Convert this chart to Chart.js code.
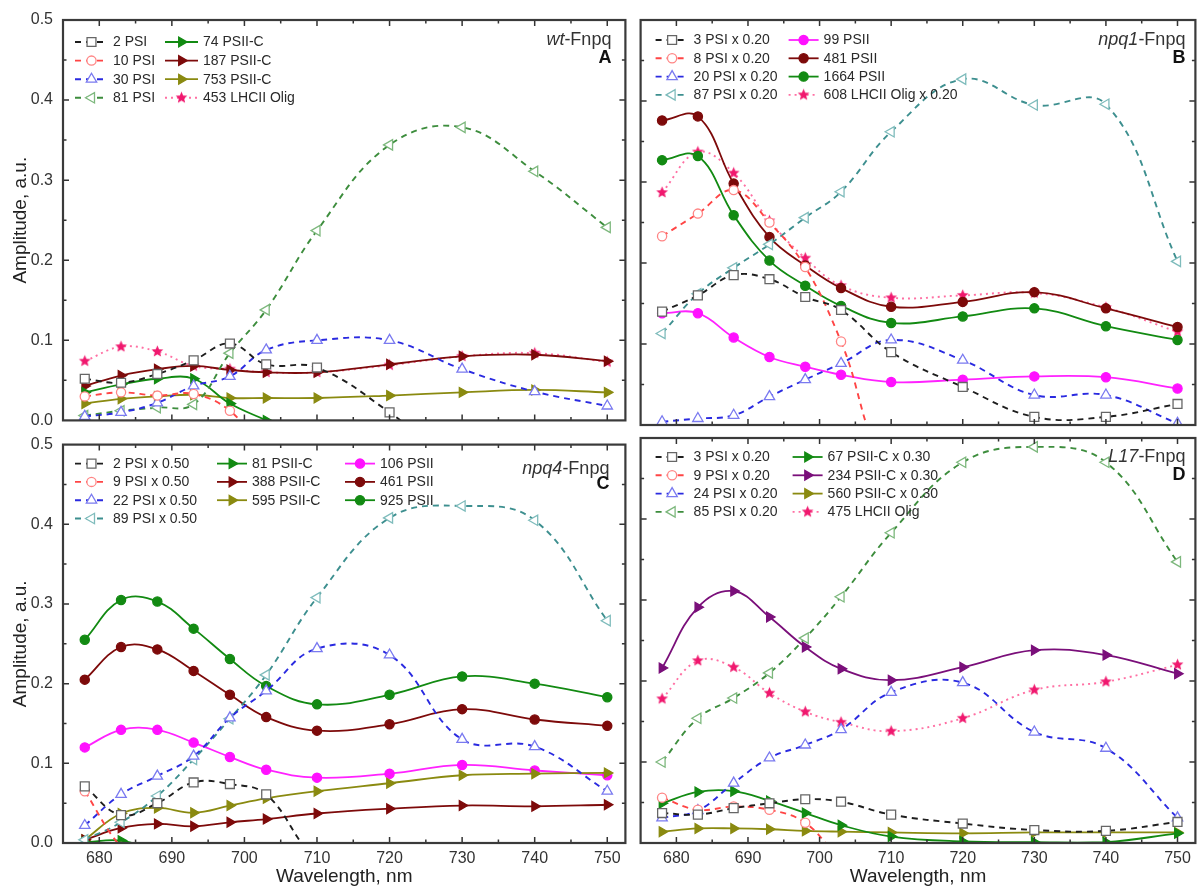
<!DOCTYPE html>
<html>
<head>
<meta charset="utf-8">
<title>Decay-associated spectra, Fnpq</title>
<script src="https://cdn.jsdelivr.net/npm/chart.js@4.4.1/dist/chart.umd.min.js"></script>
<style>
  body { margin: 0; background: #fff; }
  #wrap { position: relative; width: 1203px; height: 888px; }
  #wrap canvas { position: absolute; }
</style>
</head>
<body>
<div id="wrap">
  <canvas id="panelA" width="633" height="440" style="left:0;top:0"></canvas>
  <canvas id="panelB" width="570" height="440" style="left:633px;top:0"></canvas>
  <canvas id="panelC" width="633" height="463" style="left:0;top:425px"></canvas>
  <canvas id="panelD" width="570" height="463" style="left:633px;top:425px"></canvas>
</div>
<script>
// wavelengths of the fitted spectra (nm)
const wavelength = [678, 683, 688, 693, 698, 703, 710, 720, 730, 740, 750];
const xTickValues = [680, 690, 700, 710, 720, 730, 740, 750];
const yTickValues = [0, 0.1, 0.2, 0.3, 0.4, 0.5];

// A: wt-Fnpq
const aLabels = ['2 PSI', '10 PSI', '30 PSI', '81 PSI', '74 PSII-C', '187 PSII-C', '753 PSII-C', '453 LHCII Olig'];
const aPsi2   = [0.052, 0.047, 0.058, 0.075, 0.096, 0.070, 0.066, 0.010, -0.06, -0.09, -0.06];
const aPsi10  = [0.030, 0.035, 0.031, 0.033, 0.012, -0.04, -0.08, -0.10, -0.10, -0.10, -0.10];
const aPsi30  = [0.005, 0.010, 0.022, 0.043, 0.055, 0.088, 0.100, 0.100, 0.064, 0.036, 0.018];
const aPsi81  = [0.006, 0.012, 0.016, 0.020, 0.084, 0.138, 0.237, 0.344, 0.366, 0.311, 0.241];
const aC74    = [0.035, 0.045, 0.052, 0.052, 0.021, 0.000, -0.03, -0.05, -0.05, -0.05, -0.05];
const aC187   = [0.043, 0.056, 0.064, 0.068, 0.063, 0.060, 0.060, 0.070, 0.080, 0.082, 0.074];
const aC753   = [0.021, 0.027, 0.030, 0.032, 0.028, 0.028, 0.028, 0.031, 0.035, 0.038, 0.035];
const aOlig   = [0.074, 0.092, 0.086, 0.068, 0.064, 0.060, 0.060, 0.069, 0.080, 0.084, 0.073];

// B: npq1-Fnpq
const bLabels = ['3 PSI x 0.20', '8 PSI x 0.20', '20 PSI x 0.20', '87 PSI x 0.20', '99 PSII', '481 PSII', '1664 PSII', '608 LHCII Olig x 0.20'];
const bPsi3   = [0.140, 0.160, 0.185, 0.180, 0.158, 0.142, 0.090, 0.047, 0.010, 0.010, 0.026];
const bPsi8   = [0.233, 0.261, 0.290, 0.250, 0.195, 0.103, -0.06, -0.10, -0.10, -0.10, -0.10];
const bPsi20  = [0.004, 0.008, 0.012, 0.035, 0.056, 0.076, 0.105, 0.080, 0.037, 0.037, 0.002];
const bPsi87  = [0.113, 0.162, 0.194, 0.223, 0.256, 0.288, 0.362, 0.427, 0.395, 0.396, 0.202];
const bII99   = [0.138, 0.138, 0.108, 0.084, 0.072, 0.062, 0.053, 0.056, 0.060, 0.059, 0.045];
const bII481  = [0.376, 0.381, 0.298, 0.232, 0.197, 0.169, 0.146, 0.152, 0.164, 0.144, 0.121];
const bII1664 = [0.327, 0.332, 0.259, 0.203, 0.172, 0.147, 0.126, 0.134, 0.144, 0.122, 0.105];
const bOlig   = [0.287, 0.337, 0.311, 0.252, 0.206, 0.172, 0.157, 0.160, 0.163, 0.145, 0.115];

// C: npq4-Fnpq
const cLabels = ['2 PSI x 0.50', '9 PSI x 0.50', '22 PSI x 0.50', '89 PSI x 0.50', '81 PSII-C', '388 PSII-C', '595 PSII-C', '106 PSII', '461 PSII', '925 PSII'];
const cPsi2   = [0.071, 0.035, 0.050, 0.076, 0.074, 0.061, -0.02, -0.06, -0.08, -0.08, -0.08];
const cPsi9   = [0.065, -0.005, -0.04, -0.05, -0.05, -0.05, -0.05, -0.05, -0.05, -0.05, -0.05];
const cPsi22  = [0.022, 0.061, 0.084, 0.109, 0.157, 0.191, 0.244, 0.236, 0.130, 0.121, 0.065];
const cPsi89  = [0.004, 0.026, 0.059, 0.105, 0.156, 0.211, 0.308, 0.408, 0.423, 0.405, 0.279];
const cC81    = [0.001, 0.003, -0.01, -0.02, -0.03, -0.03, -0.03, -0.03, -0.03, -0.03, -0.03];
const cC388   = [0.004, 0.019, 0.024, 0.021, 0.026, 0.030, 0.037, 0.043, 0.047, 0.046, 0.048];
const cC595   = [0.004, 0.037, 0.044, 0.038, 0.047, 0.056, 0.065, 0.075, 0.085, 0.087, 0.088];
const cII106  = [0.120, 0.142, 0.142, 0.126, 0.108, 0.092, 0.082, 0.087, 0.098, 0.091, 0.085];
const cII461  = [0.205, 0.246, 0.243, 0.216, 0.186, 0.158, 0.141, 0.149, 0.168, 0.155, 0.147];
const cII925  = [0.255, 0.305, 0.303, 0.269, 0.231, 0.197, 0.174, 0.186, 0.209, 0.200, 0.183];

// D: L17-Fnpq
const dLabels = ['3 PSI x 0.20', '9 PSI x 0.20', '24 PSI x 0.20', '85 PSI x 0.20', '67 PSII-C x 0.30', '234 PSII-C x 0.30', '560 PSII-C x 0.30', '475 LHCII Olig'];
const dPsi3   = [0.037, 0.035, 0.043, 0.049, 0.054, 0.051, 0.035, 0.024, 0.016, 0.015, 0.026];
const dPsi9   = [0.056, 0.041, 0.045, 0.041, 0.025, -0.02, -0.06, -0.08, -0.08, -0.08, -0.08];
const dPsi24  = [0.031, 0.040, 0.074, 0.105, 0.121, 0.140, 0.186, 0.198, 0.137, 0.117, 0.031];
const dPsi85  = [0.100, 0.154, 0.179, 0.210, 0.253, 0.304, 0.383, 0.470, 0.489, 0.470, 0.347];
const dC67    = [0.049, 0.063, 0.064, 0.052, 0.037, 0.022, 0.008, 0.002, 0.001, 0.001, 0.012];
const dC234   = [0.216, 0.291, 0.311, 0.279, 0.242, 0.215, 0.201, 0.217, 0.238, 0.232, 0.209];
const dC560   = [0.014, 0.018, 0.018, 0.017, 0.015, 0.014, 0.013, 0.012, 0.013, 0.013, 0.013];
const dOlig   = [0.178, 0.225, 0.217, 0.185, 0.162, 0.149, 0.138, 0.154, 0.189, 0.199, 0.220];

const FONT = "'Liberation Sans', Arial, sans-serif";

// filled five-point star used for the LHCII oligomer traces
function starImage(color, r) {
  const c = document.createElement('canvas');
  const s = Math.ceil(r * 2 + 2);
  c.width = c.height = s;
  const g = c.getContext('2d');
  g.fillStyle = color;
  g.beginPath();
  for (let i = 0; i < 10; i++) {
    const rr = i % 2 ? r * 0.45 : r;
    const ang = -Math.PI / 2 + i * Math.PI / 5;
    g.lineTo(s / 2 + rr * Math.cos(ang), s / 2 + rr * Math.sin(ang));
  }
  g.closePath();
  g.fill();
  return c;
}

const DASH = [6, 5];
const STYLE = {
  black:   { line: '#1e1e1e', mark: '#666666', fill: '#ffffff', dash: DASH, shape: 'rect', r: 6.3 },
  red:     { line: '#ff4545', mark: '#ff8585', fill: '#ffffff', dash: DASH, shape: 'circle', r: 4.6 },
  blue:    { line: '#2a2ae0', mark: '#7a7af0', fill: '#ffffff', dash: DASH, shape: 'triangle', r: 6 },
  green:   { line: '#3d8d3d', mark: '#7db87d', fill: '#ffffff', dash: DASH, shape: 'triangle', rot: -90, r: 6 },
  teal:    { line: '#3d8f8f', mark: '#7fbcbc', fill: '#ffffff', dash: DASH, shape: 'triangle', rot: -90, r: 6 },
  cGreen:  { line: '#128a12', mark: '#128a12', fill: '#128a12', shape: 'triangle', rot: 90, r: 5.6 },
  cWine:   { line: '#7d0a0a', mark: '#7d0a0a', fill: '#7d0a0a', shape: 'triangle', rot: 90, r: 5.6 },
  cOlive:  { line: '#8a8a10', mark: '#8a8a10', fill: '#8a8a10', shape: 'triangle', rot: 90, r: 5.6 },
  cPurple: { line: '#7a0f7a', mark: '#7a0f7a', fill: '#7a0f7a', shape: 'triangle', rot: 90, r: 5.6 },
  magenta: { line: '#ff22ff', mark: '#ff11ff', fill: '#ff11ff', shape: 'circle', r: 4.6 },
  wine:    { line: '#7d0a0a', mark: '#7d0a0a', fill: '#7d0a0a', shape: 'circle', r: 4.6 },
  green2:  { line: '#128a12', mark: '#128a12', fill: '#128a12', shape: 'circle', r: 4.6 },
  olig:    { line: '#ff6fa3', mark: '#f0186e', fill: '#f0186e', dash: [2, 4], shape: starImage('#f0186e', 6.2), r: 6 }
};

function series(label, values, st) {
  return {
    label,
    data: wavelength.map((x, i) => ({ x, y: values[i] })),
    borderColor: st.line,
    borderWidth: st.dash ? 1.9 : 1.8,
    borderDash: st.dash || [],
    pointStyle: st.shape,
    pointRotation: st.rot || 0,
    pointRadius: st.r,
    pointBorderColor: st.mark,
    pointBackgroundColor: st.fill,
    pointBorderWidth: 1.3,
    tension: 0.4,
    clip: { left: 10, right: 10, top: 0, bottom: 0 }
  };
}

// frame with inward ticks on all sides, panel caption and inset legend
const panelDecor = {
  id: 'panelDecor',
  afterDatasetsDraw(chart, args, o) {
    const { ctx, chartArea: a, scales: { x, y } } = chart;
    ctx.save();
    ctx.setLineDash([]);
    ctx.strokeStyle = '#333';
    ctx.lineWidth = 1.5;
    ctx.beginPath();
    for (let v = 680; v <= 750; v += 5) {
      const px = x.getPixelForValue(v);
      const len = v % 10 === 0 ? 6 : 3.5;
      ctx.moveTo(px, a.bottom); ctx.lineTo(px, a.bottom - len);
      ctx.moveTo(px, a.top); ctx.lineTo(px, a.top + len);
    }
    for (let k = 1; k < 10; k++) {
      const py = y.getPixelForValue(k * 0.05);
      const len = k % 2 === 0 ? 6 : 3.5;
      ctx.moveTo(a.left, py); ctx.lineTo(a.left + len, py);
      ctx.moveTo(a.right, py); ctx.lineTo(a.right - len, py);
    }
    ctx.stroke();
    ctx.lineWidth = 2.2;
    ctx.strokeStyle = '#3a3a3a';
    ctx.strokeRect(a.left, a.top, a.right - a.left, a.bottom - a.top);

    // caption: italic strain name + "-Fnpq", panel letter below
    const rx = a.right - o.titleDx;
    ctx.fillStyle = '#333';
    ctx.textBaseline = 'alphabetic';
    ctx.textAlign = 'left';
    ctx.font = '18px ' + FONT;
    const tailW = ctx.measureText(o.tail).width;
    ctx.font = 'italic 18px ' + FONT;
    const tagW = ctx.measureText(o.tag).width;
    ctx.fillText(o.tag, rx - tailW - tagW, a.top + o.titleY);
    ctx.font = '18px ' + FONT;
    ctx.fillText(o.tail, rx - tailW, a.top + o.titleY);
    ctx.font = 'bold 18px ' + FONT;
    ctx.textAlign = 'right';
    ctx.fillStyle = '#111';
    ctx.fillText(o.letter, rx, a.top + o.letterY);

    // inset legend
    const lg = o.legend;
    ctx.font = '14px ' + FONT;
    ctx.textAlign = 'left';
    ctx.textBaseline = 'middle';
    lg.cols.forEach(col => {
      col.items.forEach((idx, row) => {
        const ds = chart.data.datasets[idx];
        const cy = a.top + lg.rowTop + row * lg.rowH;
        const x0 = a.left + col.line;
        const x1 = a.left + col.text - 5;
        ctx.strokeStyle = ds.borderColor;
        ctx.lineWidth = ds.borderWidth;
        ctx.setLineDash(ds.borderDash);
        ctx.beginPath();
        ctx.moveTo(x0, cy); ctx.lineTo(x1, cy);
        ctx.stroke();
        ctx.setLineDash([]);
        ctx.fillStyle = ds.pointBackgroundColor;
        ctx.strokeStyle = ds.pointBorderColor;
        ctx.lineWidth = ds.pointBorderWidth;
        Chart.helpers.drawPoint(ctx, {
          pointStyle: ds.pointStyle, rotation: ds.pointRotation,
          radius: ds.pointRadius, borderWidth: ds.pointBorderWidth
        }, (x0 + x1) / 2, cy);
        ctx.fillStyle = '#2a2a2a';
        ctx.fillText(ds.label, a.left + col.text, cy + 0.5);
      });
    });
    ctx.restore();
  }
};

function panelChart(id, datasets, o) {
  return new Chart(document.getElementById(id), {
    type: 'line',
    data: { datasets },
    options: {
      responsive: false,
      animation: false,
      devicePixelRatio: 1,
      layout: { padding: o.padding },
      plugins: { legend: { display: false }, tooltip: { enabled: false }, panelDecor: o.decor },
      scales: {
        x: {
          type: 'linear', min: 675, max: 752.5,
          afterBuildTicks: s => { s.ticks = xTickValues.map(v => ({ value: v })); },
          afterFit: s => { s.height = o.bottomAxis ? 45 : 0; },
          grid: { display: false, drawTicks: false },
          border: { display: false },
          ticks: { display: o.bottomAxis, padding: 6, color: '#333', font: { family: FONT, size: 16 }, callback: v => String(v) },
          title: { display: o.bottomAxis, text: 'Wavelength, nm', color: '#222', font: { family: FONT, size: 19 }, padding: { top: 0, bottom: 0 } }
        },
        y: {
          min: 0, max: 0.5,
          afterBuildTicks: s => { s.ticks = yTickValues.map(v => ({ value: v })); },
          afterFit: s => { s.width = o.leftAxis ? 63 : 0; },
          grid: { display: false, drawTicks: false },
          border: { display: false },
          ticks: { display: o.leftAxis, padding: 10, color: '#333', font: { family: FONT, size: 16 }, callback: v => v.toFixed(1) },
          title: { display: o.leftAxis, text: 'Amplitude, a.u.', color: '#222', font: { family: FONT, size: 19 }, padding: { top: 9, bottom: 0 } }
        }
      }
    },
    plugins: [panelDecor]
  });
}

const S = STYLE;

panelChart('panelA', [
  series(aLabels[0], aPsi2, S.black),
  series(aLabels[1], aPsi10, S.red),
  series(aLabels[2], aPsi30, S.blue),
  series(aLabels[3], aPsi81, S.green),
  series(aLabels[4], aC74, S.cGreen),
  series(aLabels[5], aC187, S.cWine),
  series(aLabels[6], aC753, S.cOlive),
  series(aLabels[7], aOlig, S.olig)
], {
  padding: { top: 20, right: 2, bottom: 15, left: 0 }, leftAxis: true, bottomAxis: false,
  decor: {
    tag: 'wt', tail: '-Fnpq', letter: 'A', titleDx: 14, titleY: 25, letterY: 43,
    legend: { rowTop: 22, rowH: 18.6, cols: [
      { line: 12, text: 50, items: [0, 1, 2, 3] },
      { line: 102, text: 140, items: [4, 5, 6, 7] }
    ] }
  }
});

panelChart('panelB', [
  series(bLabels[0], bPsi3, S.black),
  series(bLabels[1], bPsi8, S.red),
  series(bLabels[2], bPsi20, S.blue),
  series(bLabels[3], bPsi87, S.teal),
  series(bLabels[4], bII99, S.magenta),
  series(bLabels[5], bII481, S.wine),
  series(bLabels[6], bII1664, S.green2),
  series(bLabels[7], bOlig, S.olig)
], {
  padding: { top: 20, right: 3, bottom: 15, left: 2 }, leftAxis: false, bottomAxis: false,
  decor: {
    tag: 'npq1', tail: '-Fnpq', letter: 'B', titleDx: 10, titleY: 25, letterY: 43,
    legend: { rowTop: 20, rowH: 18.3, cols: [
      { line: 15, text: 53, items: [0, 1, 2, 3] },
      { line: 148, text: 183, items: [4, 5, 6, 7] }
    ] }
  }
});

panelChart('panelC', [
  series(cLabels[0], cPsi2, S.black),
  series(cLabels[1], cPsi9, S.red),
  series(cLabels[2], cPsi22, S.blue),
  series(cLabels[3], cPsi89, S.teal),
  series(cLabels[4], cC81, S.cGreen),
  series(cLabels[5], cC388, S.cWine),
  series(cLabels[6], cC595, S.cOlive),
  series(cLabels[7], cII106, S.magenta),
  series(cLabels[8], cII461, S.wine),
  series(cLabels[9], cII925, S.green2)
], {
  padding: { top: 13, right: 2, bottom: 0, left: 0 }, leftAxis: true, bottomAxis: true,
  decor: {
    tag: 'npq4', tail: '-Fnpq', letter: 'C', titleDx: 16, titleY: 29, letterY: 44,
    legend: { rowTop: 19, rowH: 18.3, cols: [
      { line: 12, text: 50, items: [0, 1, 2, 3] },
      { line: 154, text: 189, items: [4, 5, 6] },
      { line: 282, text: 317, items: [7, 8, 9] }
    ] }
  }
});

panelChart('panelD', [
  series(dLabels[0], dPsi3, S.black),
  series(dLabels[1], dPsi9, S.red),
  series(dLabels[2], dPsi24, S.blue),
  series(dLabels[3], dPsi85, S.green),
  series(dLabels[4], dC67, S.cGreen),
  series(dLabels[5], dC234, S.cPurple),
  series(dLabels[6], dC560, S.cOlive),
  series(dLabels[7], dOlig, S.olig)
], {
  padding: { top: 13, right: 3, bottom: 0, left: 2 }, leftAxis: false, bottomAxis: true,
  decor: {
    tag: 'L17', tail: '-Fnpq', letter: 'D', titleDx: 10, titleY: 24, letterY: 42,
    legend: { rowTop: 19, rowH: 18.3, cols: [
      { line: 15, text: 53, items: [0, 1, 2, 3] },
      { line: 152, text: 187, items: [4, 5, 6, 7] }
    ] }
  }
});
</script>
</body>
</html>
